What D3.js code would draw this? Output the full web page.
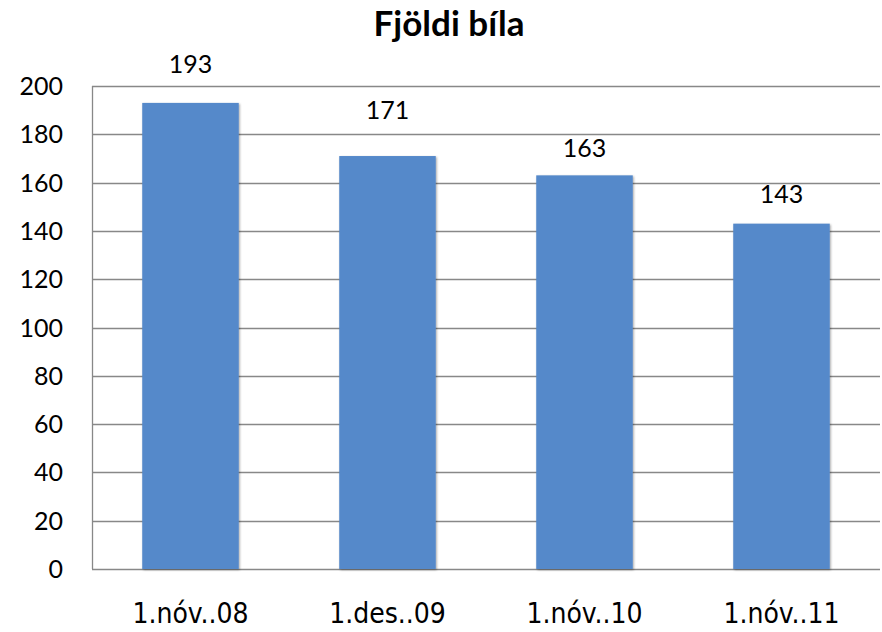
<!DOCTYPE html>
<html>
<head>
<meta charset="utf-8">
<script src="https://cdn.jsdelivr.net/npm/d3@7"></script>
<style>
  body { margin: 0; background: #fff; }
  text { font-family: Lato, "Noto Sans", sans-serif; fill: #000; }
</style>
</head>
<body>
<div id="chart"></div>
<script>
var categories = ['1.nóv..08', '1.des..09', '1.nóv..10', '1.nóv..11'];
var values = [193, 171, 163, 143];
var yTicks = [0, 20, 40, 60, 80, 100, 120, 140, 160, 180, 200];
// hand placed label offsets in the original, px above bar top
var labelNudge = [39, 46, 27, 30];

var w = 882, h = 632;
var margin = {top: 86, right: 2, bottom: 63, left: 92};

var svg = d3.select('#chart').append('svg')
  .attr('width', w).attr('height', h);

var defs = svg.append('defs');
var f = defs.append('filter').attr('id', 'shadow')
  .attr('x', '-10%').attr('y', '-10%').attr('width', '120%').attr('height', '120%');
f.append('feDropShadow').attr('dx', 1).attr('dy', 1).attr('stdDeviation', 1.2)
  .attr('flood-color', '#000').attr('flood-opacity', 0.35);

var x = d3.scaleBand()
  .domain(categories)
  .range([margin.left, w - margin.right])
  .paddingInner(0.51).paddingOuter(0.255);

var y = d3.scaleLinear()
  .domain([0, 200])
  .range([h - margin.bottom, margin.top]);

// gridlines
svg.append('g')
  .selectAll('line').data(yTicks).enter()
  .append('line')
  .attr('x1', margin.left).attr('x2', w - margin.right)
  .attr('y1', function (d) { return Math.round(y(d)) + 0.5; })
  .attr('y2', function (d) { return Math.round(y(d)) + 0.5; })
  .attr('stroke', '#888').attr('stroke-width', 1.3);

// y axis line
svg.append('line')
  .attr('x1', margin.left + 0.5).attr('x2', margin.left + 0.5)
  .attr('y1', y(200)).attr('y2', y(0))
  .attr('stroke', '#888').attr('stroke-width', 1.3);

// y labels
svg.append('g')
  .selectAll('text').data(yTicks).enter()
  .append('text')
  .attr('x', 63)
  .attr('y', function (d) { return y(d); })
  .attr('dy', '0.36em')
  .attr('text-anchor', 'end')
  .style('font-size', '25px')
  .text(function (d) { return d; });

// bars
svg.append('g')
  .selectAll('rect').data(values).enter()
  .append('rect')
  .attr('x', function (d, i) { return x(categories[i]); })
  .attr('y', function (d) { return y(d); })
  .attr('width', x.bandwidth())
  .attr('height', function (d) { return y(0) - y(d); })
  .attr('fill', '#5589CA')
  .attr('filter', 'url(#shadow)');

// value labels
svg.append('g')
  .selectAll('text').data(values).enter()
  .append('text')
  .attr('x', function (d, i) { return x(categories[i]) + x.bandwidth() / 2; })
  .attr('y', function (d, i) { return y(d) - labelNudge[i]; })
  .attr('dy', '0.36em')
  .attr('text-anchor', 'middle')
  .style('font-size', '25px')
  .text(function (d) { return d; });

// x labels
svg.append('g')
  .selectAll('text').data(categories).enter()
  .append('text')
  .attr('x', function (d) { return x(d) + x.bandwidth() / 2; })
  .attr('y', 623)
  .attr('text-anchor', 'middle')
  .style('font-family', '"DejaVu Sans Condensed", "DejaVu Sans", sans-serif')
  .style('font-size', '28px')
  .text(function (d) { return d; });

// title
svg.append('text')
  .attr('x', 449).attr('y', 36)
  .attr('text-anchor', 'middle')
  .style('font-weight', 'bold')
  .style('font-size', '35px')
  .text('Fjöldi bíla');
</script>
</body>
</html>
